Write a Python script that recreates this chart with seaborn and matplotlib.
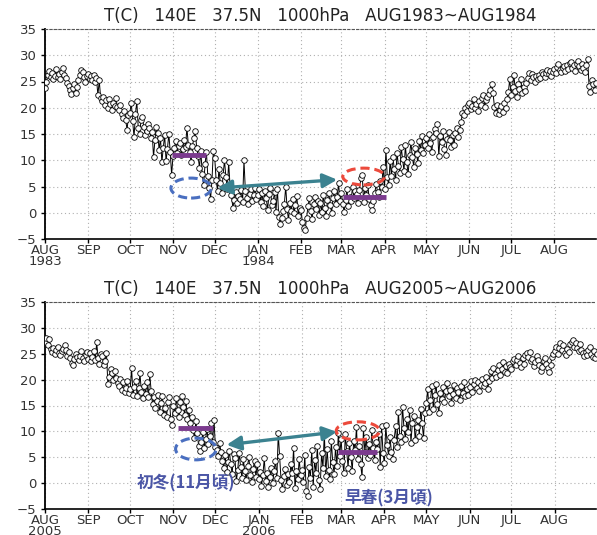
import pandas as pd
import matplotlib
matplotlib.use("Agg")
import matplotlib.pyplot as plt
import matplotlib.dates as mdates
from matplotlib.patches import Ellipse
import seaborn as sns

# daily 1000hPa temperature (C) at 140E 37.5N
temp_1983 = [
    # Aug 1983
    23.8, 25.0, 26.2, 27.0, 25.8, 26.6, 25.4, 26.0, 27.3, 25.9, 26.4, 25.5, 26.8, 27.5, 26.2, 25.6,
    24.8, 24.2, 23.4, 22.6, 23.8, 24.5, 22.9, 24.0, 25.3, 26.2, 27.2, 26.9, 25.8, 24.9, 26.1,
    # Sep
    26.5, 25.4, 26.0, 25.2, 26.2, 25.0, 25.6, 22.4, 25.2, 21.8, 21.2, 22.0, 20.6, 21.4, 20.0,
    21.6, 20.8, 19.6, 21.0, 20.4, 21.8, 20.2, 19.5, 20.6, 18.8, 18.0, 19.4, 17.6, 15.8, 18.6,
    # Oct
    19.0, 21.0, 17.4, 14.4, 18.8, 21.2, 16.2, 15.0, 17.6, 18.2, 16.4, 14.8, 15.6, 17.0, 16.2, 14.2,
    15.4, 10.6, 13.8, 16.4, 15.2, 12.0, 14.2, 9.6, 12.4, 14.8, 9.8, 12.2, 15.0, 11.6, 7.2,
    # Nov
    10.8, 12.4, 13.6, 11.4, 12.8, 13.2, 11.0, 12.2, 13.8, 12.6, 16.2, 13.0, 11.6, 9.6, 12.8,
    14.2, 15.6, 12.4, 10.8, 8.6, 11.8, 7.4, 5.2, 9.2, 11.6, 7.0, 4.8, 2.6, 6.2, 11.8,
    # Dec
    10.4, 6.2, 4.2, 8.4, 5.6, 3.8, 7.2, 10.0, 6.8, 4.6, 9.6, 5.0, 3.4, 1.0, 2.4, 4.0,
    1.8, 3.2, 2.6, 4.4, 2.0, 10.0, 4.2, 2.8, 1.6, 3.6, 4.6, 2.2, 3.4, 4.8, 2.6,
    # Jan 1984
    3.4, 4.6, 2.0, 3.8, 1.2, 4.2, 2.8, 0.6, 3.6, 4.8, 1.4, 2.2, 4.0, 0.2, 4.6, -0.8,
    -2.2, -1.0, 0.4, 1.6, 5.0, 0.8, -1.4, 1.8, 0.4, 2.6, 0.0, 1.4, 3.2, -0.6, 1.0,
    # Feb
    0.6, -1.8, -2.9, -3.2, -1.0, 1.2, 2.8, 0.4, -1.2, 1.6, 3.0, 0.8, 2.2, -0.4, 1.8,
    0.2, 3.4, 1.0, -0.6, 2.4, 3.8, 1.4, 0.0, 2.8, 4.2, 1.6, 3.0, 5.6, 2.2,
    # Mar
    3.8, 1.6, 0.2, 2.4, 4.6, 1.2, 3.0, 2.2, 5.0, 2.8, 4.2, 3.6, 1.8, 4.4, 6.6, 7.2,
    2.0, 4.8, 3.4, 5.2, 2.6, 1.4, 0.6, 2.2, 3.8, 5.4, 4.0, 3.0, 6.0, 5.0, 8.8,
    # Apr
    4.6, 12.0, 6.8, 5.2, 9.8, 7.0, 10.6, 8.4, 6.2, 11.4, 9.0, 7.6, 12.6, 10.2, 8.0,
    12.9, 9.6, 7.4, 11.0, 13.4, 10.6, 8.8, 12.4, 11.2, 9.4, 13.6, 12.0, 14.6, 11.4, 13.0,
    # May
    14.2, 12.4, 15.0, 13.2, 11.6, 14.4, 16.0, 15.2, 17.0, 10.8, 14.6, 13.4, 15.6, 12.2, 11.0, 14.0,
    15.4, 13.8, 12.6, 14.8, 13.0, 15.2, 16.2, 14.4, 15.8, 17.2, 19.0, 18.6, 20.0, 19.4, 20.6,
    # Jun
    21.0, 19.8, 20.4, 21.6, 20.0, 20.8, 19.4, 21.2, 20.6, 21.8, 22.4, 20.2, 21.4, 22.0, 22.6,
    23.4, 24.6, 22.8, 20.2, 19.0, 20.6, 18.8, 19.6, 20.4, 19.2, 21.0, 20.0, 21.6, 23.0, 25.4,
    # Jul
    22.4, 24.0, 26.2, 23.2, 22.0, 24.6, 23.6, 25.4, 22.8, 24.0, 23.2, 24.8, 25.6, 26.6, 25.2, 26.4,
    25.8, 25.0, 26.0, 25.4, 26.2, 25.6, 26.8, 26.4, 25.8, 26.6, 27.2, 26.4, 27.0, 26.0, 26.8,
    # Aug 1984
    27.4, 26.6, 27.8, 28.4, 27.2, 26.8, 27.6, 28.0, 27.0, 28.2, 27.4, 28.6, 28.8, 27.6, 28.2, 27.0,
    28.4, 29.0, 28.0, 27.2, 28.4, 27.6, 26.8, 28.2, 29.2, 24.2, 23.0, 25.2, 24.6, 23.4, 24.8,
]

temp_2005 = [
    # Aug 2005
    27.2, 28.0, 26.6, 27.8, 26.0, 25.4, 26.2, 25.0, 25.8, 26.4, 25.2, 24.8, 25.6, 26.0, 26.6, 25.8,
    24.6, 25.4, 24.2, 23.2, 22.8, 24.0, 25.0, 24.4, 23.8, 24.6, 25.6, 24.2, 23.6, 24.8, 25.4,
    # Sep
    24.0, 25.2, 23.6, 24.4, 25.6, 23.8, 27.2, 24.2, 23.0, 25.0, 24.6, 22.8, 23.6, 25.2, 19.2,
    20.6, 22.0, 21.2, 20.0, 21.6, 20.4, 19.4, 18.8, 20.2, 18.0, 19.6, 17.6, 18.4, 19.8, 17.4,
    # Oct
    18.2, 22.2, 17.0, 18.6, 19.8, 16.8, 18.4, 21.2, 17.6, 16.4, 18.8, 17.2, 19.6, 16.6, 21.0, 17.8,
    15.2, 16.6, 14.6, 15.8, 17.0, 13.8, 15.4, 16.8, 13.2, 14.6, 12.8, 15.6, 16.6, 12.4, 11.2,
    # Nov
    15.0, 13.6, 16.4, 14.2, 12.8, 15.6, 16.8, 14.8, 13.2, 15.8, 12.4, 14.2, 11.6, 12.8, 10.2,
    8.8, 12.0, 9.6, 7.2, 6.2, 8.0, 9.8, 6.8, 8.6, 10.4, 7.6, 9.2, 11.6, 8.0, 12.2,
    # Dec
    7.0, 6.4, 5.2, 7.8, 6.0, 4.2, 3.0, 5.4, 2.2, 4.0, 6.2, 3.6, 1.8, 5.6, 4.8, 0.4,
    2.6, 5.8, 3.2, 1.0, 4.6, 2.4, 0.6, 3.4, 5.0, 1.6, 0.2, 2.8, 4.2, 1.2, 3.6,
    # Jan 2006
    0.8, 2.2, -0.6, 1.6, 4.8, 0.4, 2.0, -0.8, 1.2, 3.0, 0.0, 2.4, 4.2, 1.0, 9.6, 5.2,
    0.6, -1.2, 1.4, 2.8, -0.4, 1.8, 0.2, 3.6, 2.0, 6.8, -1.0, 2.4, 0.8, 4.6, 1.6,
    # Feb
    2.6, 0.2, 5.4, -1.6, -2.4, 3.2, 1.0, 6.4, -0.8, 4.4, 2.0, 7.2, 0.6, -1.2,
    5.8, 3.0, 9.8, 1.4, 6.6, 2.6, 0.8, 8.2, 4.0, 1.8, 7.0, 3.4, 9.6, 5.2,
    # Mar
    8.6, 4.2, 2.0, 9.4, 6.2, 3.0, 7.8, 5.0, 2.4, 8.2, 6.4, 10.8, 4.6, 7.2, 3.6, 1.2,
    10.6, 6.0, 9.0, 4.8, 7.6, 5.4, 10.2, 6.8, 4.4, 8.0, 6.6, 9.4, 3.2, 11.0, 5.8,
    # Apr
    3.8, 11.2, 7.4, 5.2, 9.0, 6.0, 4.6, 8.4, 11.0, 7.0, 13.8, 9.2, 8.0, 14.8, 10.6,
    8.6, 12.4, 9.8, 14.2, 7.8, 11.6, 13.0, 8.4, 10.8, 12.2, 9.2, 14.4, 11.6, 8.8, 13.6,
    # May
    15.4, 18.2, 13.8, 16.0, 18.8, 14.4, 17.0, 19.2, 15.2, 13.6, 17.4, 16.2, 18.6, 15.6, 17.8, 19.4,
    16.8, 18.0, 15.4, 17.2, 19.0, 16.4, 18.4, 17.6, 16.0, 18.8, 17.4, 19.6, 16.8, 18.2, 17.0,
    # Jun
    18.6, 19.8, 17.6, 19.2, 20.0, 18.4, 19.6, 17.8, 19.0, 20.2, 18.8, 19.4, 20.6, 18.2, 19.8,
    21.6, 20.4, 22.2, 21.0, 20.6, 21.8, 22.8, 20.8, 22.0, 23.4, 21.4, 22.6, 21.2, 23.0, 22.4,
    # Jul
    22.0, 23.6, 24.0, 22.8, 23.8, 24.6, 23.2, 22.4, 24.2, 23.0, 24.8, 25.2, 24.4, 25.4, 23.6, 24.0,
    22.6, 23.4, 24.6, 23.8, 22.8, 21.6, 22.4, 23.6, 24.2, 23.0, 22.2, 21.4, 22.8, 24.4, 25.0,
    # Aug 2006
    25.6, 26.4, 25.0, 26.2, 27.0, 25.8, 26.6, 25.2, 24.8, 26.0, 25.4, 26.8, 27.2, 27.6, 26.4, 27.0,
    26.2, 25.6, 26.8, 25.8, 25.2, 24.6, 25.4, 24.8, 25.8, 26.4, 25.0, 24.4, 25.6, 24.2, 25.0,
]

start_dates = ["1983-08-01", "2005-08-01"]
titles = ["T(C)   140E   37.5N   1000hPa   AUG1983~AUG1984",
          "T(C)   140E   37.5N   1000hPa   AUG2005~AUG2006"]
month_labels = ["AUG", "SEP", "OCT", "NOV", "DEC", "JAN", "FEB",
                "MAR", "APR", "MAY", "JUN", "JUL", "AUG"]
year_labels = [("1983", "1984"), ("2005", "2006")]

# annotation marks: (start, end, level)
winter_bars = [("1983-10-31", "1983-11-25", 11.0), ("2005-11-04", "2005-11-29", 10.7)]
spring_bars = [("1984-03-02", "1984-04-02", 3.0), ("2006-02-27", "2006-03-27", 6.0)]
# ellipses: (center date, center value, width days, height)
winter_ellipses = [("1983-11-14", 4.7, 29, 3.8), ("2005-11-17", 6.6, 29, 4.2)]
spring_ellipses = [("1984-03-17", 6.9, 30, 3.2), ("2006-03-13", 10.1, 31, 3.5)]
arrows = [(("1983-12-03", 4.7), ("1984-02-27", 6.3)),
          (("2005-12-09", 7.4), ("2006-02-26", 9.9))]
xlim_days = [396, 394.5]

sns.set_theme(style="white")
plt.rcParams["font.family"] = ["DejaVu Sans"]

fig = plt.figure(figsize=(5.97, 5.35), dpi=100)
ax_boxes = [[45 / 597, 1 - 239 / 535, 551 / 597, 210 / 535],
            [45 / 597, 1 - 509 / 535, 551 / 597, 207 / 535]]

purple = "#7b3a8e"
teal = "#3b8290"
blue = "#4a6fc0"
red = "#ec4a3c"
label_blue = "#4b56a6"

for i, vals in enumerate([temp_1983, temp_2005]):
    ax = fig.add_axes(ax_boxes[i])
    dates = pd.date_range(start_dates[i], periods=len(vals), freq="D")
    df = pd.DataFrame({"date": dates, "temp": vals})
    sns.lineplot(data=df, x="date", y="temp", ax=ax, color="black", lw=0.7,
                 marker="o", markersize=4, markerfacecolor="white",
                 markeredgecolor="black", markeredgewidth=0.6, zorder=3)

    t0 = pd.Timestamp(start_dates[i])
    ax.set_xlim(t0, t0 + pd.Timedelta(days=xlim_days[i]))
    ax.set_ylim(-5, 35)
    ax.set_yticks(range(-5, 36, 5))
    ax.set_yticklabels(["\u22125"] + [str(v) for v in range(0, 36, 5)])

    ticks = pd.date_range(t0, periods=13, freq="MS")
    ax.set_xticks(ticks)
    labels = list(month_labels)
    labels[0] = labels[0] + "\n" + year_labels[i][0]
    labels[5] = labels[5] + "\n" + year_labels[i][1]
    ax.set_xticklabels(labels, linespacing=0.8)
    ax.set_xlabel("")
    ax.set_ylabel("")
    ax.tick_params(axis="both", labelsize=9.5, labelcolor="#333333", length=3,
                   width=1, color="black", direction="out", pad=2)
    ax.tick_params(axis="x", bottom=True, pad=0.5)
    ax.tick_params(axis="y", left=True, pad=3)

    ax.grid(True, color="#b0b0b0", linestyle=(0, (1, 2.5)), lw=0.8)
    ax.spines["left"].set_color("black")
    ax.spines["left"].set_linewidth(1.3)
    ax.spines["bottom"].set_color("black")
    ax.spines["bottom"].set_linewidth(1.2)
    ax.spines["top"].set_color("#555555")
    ax.spines["top"].set_linestyle((0, (2, 2)))
    ax.spines["top"].set_linewidth(0.8)
    ax.spines["right"].set_visible(False)

    ax.set_title(titles[i], fontsize=12, color="#222222", pad=6)

    # annotations
    for (a, b, lev), col in [(winter_bars[i], purple), (spring_bars[i], purple)]:
        ax.hlines(lev, pd.Timestamp(a), pd.Timestamp(b), color=col, lw=3.5, zorder=4)
    for (c, v, w, h), col in [(winter_ellipses[i], blue), (spring_ellipses[i], red)]:
        cx = mdates.date2num(pd.Timestamp(c))
        ax.add_patch(Ellipse((cx, v), w, h, fill=False, edgecolor=col, lw=2.2,
                             linestyle=(0, (3, 1.6)), zorder=5))
    (d0, v0), (d1, v1) = arrows[i]
    ax.annotate("", xy=(mdates.date2num(pd.Timestamp(d1)), v1),
                xytext=(mdates.date2num(pd.Timestamp(d0)), v0),
                arrowprops=dict(arrowstyle="<|-|>,head_length=0.7,head_width=0.35",
                                color=teal, lw=2.4, shrinkA=0, shrinkB=0), zorder=6)

    if i == 1:
        jp = ["Noto Sans CJK JP", "DejaVu Sans"]
        ax.text(pd.Timestamp("2005-10-06"), 0.0, "初冬(11月頃)", family=jp,
                fontsize=12, fontweight="bold", color=label_blue, va="center", ha="left")
        ax.text(pd.Timestamp("2006-03-03"), -2.9, "早春(3月頃)", family=jp,
                fontsize=12, fontweight="bold", color=label_blue, va="center", ha="left")

fig.savefig("out.png", dpi=100)
